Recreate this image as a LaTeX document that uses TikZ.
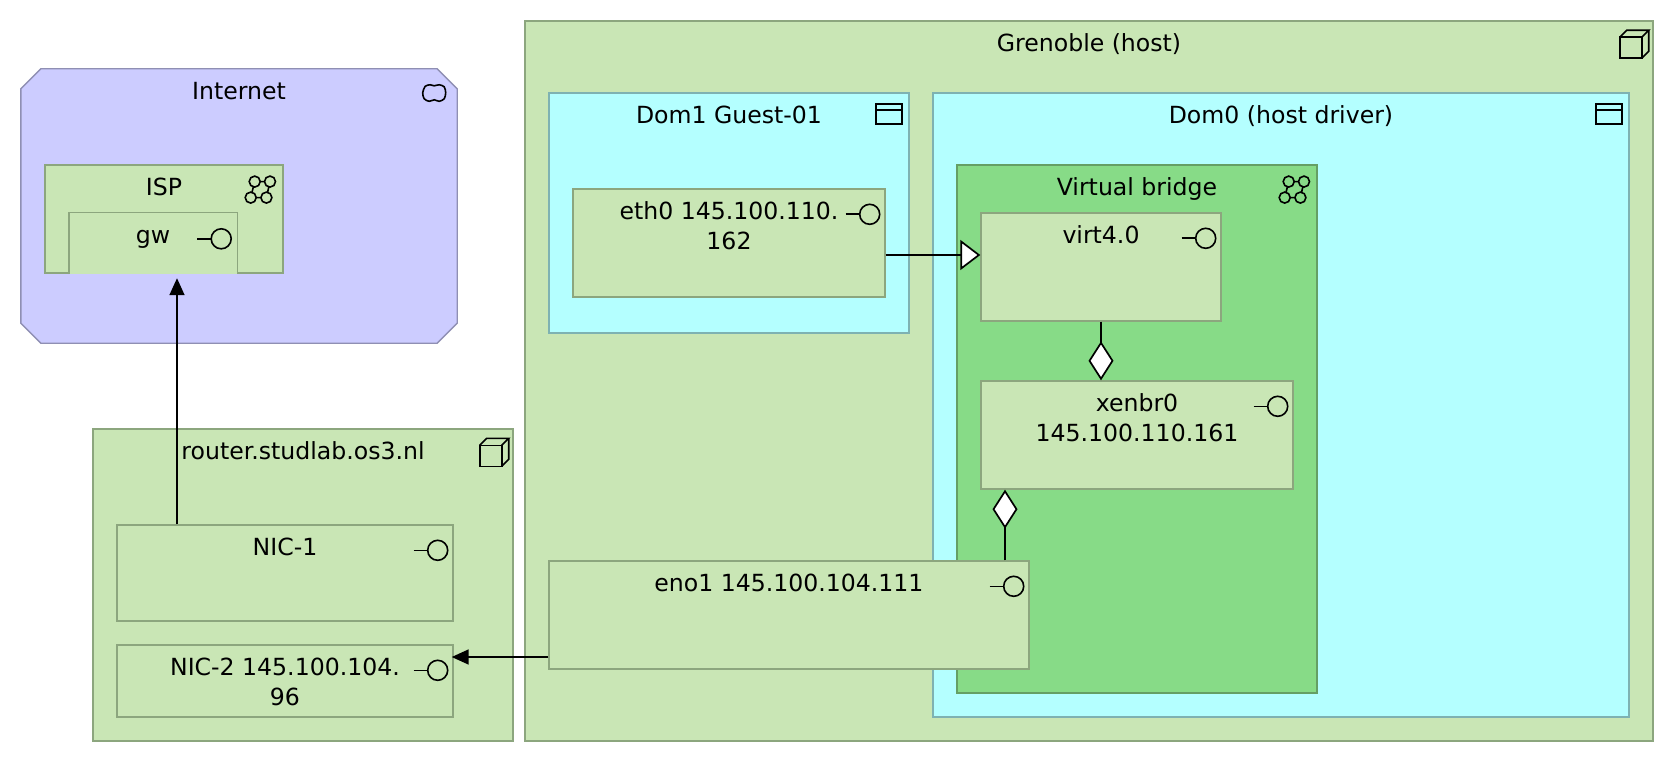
\documentclass[tikz,border=0pt]{standalone}
\usepackage{fontspec}
\setmainfont{DejaVu Sans}
\usetikzlibrary{arrows.meta}
\definecolor{nodegreen}{HTML}{C9E6B5}
\definecolor{nodeline}{HTML}{8CA67E}
\definecolor{bridgegreen}{HTML}{87DB87}
\definecolor{bridgeline}{HTML}{659F65}
\definecolor{domcyan}{HTML}{B4FFFF}
\definecolor{domline}{HTML}{7EB2B2}
\definecolor{netpurple}{HTML}{CCCCFF}
\definecolor{netline}{HTML}{8F8FB3}
\tikzset{
	techbox/.style 2 args={draw=nodeline, fill=nodegreen, line width=1.4pt, minimum width=#1pt, minimum height=#2pt, inner sep=0pt},
	dombox/.style 2 args={techbox={#1}{#2}, draw=domline, fill=domcyan},
	bridgebox/.style 2 args={techbox={#1}{#2}, draw=bridgeline, fill=bridgegreen},
	boxtitle/.style={anchor=base, align=center, inner sep=0pt, font=\fontsize{23.6}{30}\selectfont},
	iconline/.style={draw=black, line width=1.6pt},
	flow/.style={draw=black, line width=1.7pt, -{Triangle[length=17pt, width=15pt]}},
	realizes/.style={draw=black, line width=1.7pt, -{Triangle[fill=white, length=20pt, width=30pt]}},
	aggregates/.style={draw=black, line width=1.7pt, -{Diamond[fill=white, length=39pt, width=25pt]}},
	ifaceicon/.pic={
		\draw[iconline] (-40,26) -- (-26,26);
		\draw[iconline] (-16,26) circle (10pt);
	},
	cubeicon/.pic={
		\draw[iconline] (-34,17) rectangle (-12,38);
		\draw[iconline] (-34,17) -- (-27,10) -- (-5,10) -- (-12,17);
		\draw[iconline] (-5,10) -- (-5,31) -- (-12,38);
	},
	windowicon/.pic={
		\draw[iconline] (-34,12) rectangle (-8,32);
		\draw[iconline] (-34,18) -- (-8,18);
	},
	cloudicon/.pic={
		\draw[iconline] plot[smooth cycle] coordinates {(-34.5,24) (-32,17.5) (-27,16) (-23,17) (-18,16) (-13,18) (-11.5,24) (-13,30) (-18,32.5) (-23,31) (-28,32.5) (-33,30)};
	},
	neticon/.pic={
		\draw[iconline] (-29,17.3) -- (-13.7,17.3) -- (-17.3,33.3) -- (-33,33.3) -- cycle;
		\foreach \cx/\cy in {-29/17.3, -13.7/17.3, -17.3/33.3, -33/33.3}
			\draw[iconline, fill=#1] (\cx,\cy) circle (5.5pt);
	}
}
\begin{document}
\begin{tikzpicture}[x=1pt, y=-1pt]
\useasboundingbox (0,0) rectangle (1674,762);
\node[minimum width=436pt, minimum height=274pt, inner sep=0pt] (internet) at (239,206) {};
\draw[netline, fill=netpurple, line width=1.4pt] ([xshift=20pt]internet.north west) -- ([xshift=-20pt]internet.north east)
	-- ([yshift=-20pt]internet.north east) -- ([yshift=20pt]internet.south east)
	-- ([xshift=-20pt]internet.south east) -- ([xshift=20pt]internet.south west)
	-- ([yshift=20pt]internet.south west) -- ([yshift=-20pt]internet.north west) -- cycle;
\node[techbox={238}{108}] (isp) at (164,219) {};
\node[fill=nodegreen, minimum width=168pt, minimum height=61pt, inner sep=0pt] (gw) at (153,243.5) {};
\draw[nodeline, line width=1.4pt] (gw.south west) |- (gw.north east) -- (gw.south east);
\node[techbox={420}{312}] (router) at (303,585) {};
\node[techbox={336}{96}] (nicone) at (285,573) {};
\node[techbox={336}{72}] (nictwo) at (285,681) {};
\node[techbox={1128}{720}] (host) at (1089,381) {};
\node[dombox={360}{240}] (domone) at (729,213) {};
\node[techbox={312}{108}] (eth) at (729,243) {};
\node[dombox={696}{624}] (domzero) at (1281,405) {};
\node[bridgebox={360}{528}] (bridge) at (1137,429) {};
\node[techbox={240}{108}] (virt) at (1101,267) {};
\node[techbox={312}{108}] (xenbr) at (1137,435) {};
\node[techbox={480}{108}] (eno) at (789,615) {};
\node[boxtitle] (internettitle) at ([yshift=-31pt]internet.north) {Internet};
\node[boxtitle] (isptitle) at ([yshift=-31pt]isp.north) {ISP};
\node[boxtitle] (gwtitle) at ([yshift=-30.5pt]gw.north) {gw};
\node[boxtitle] (routertitle) at ([yshift=-31pt]router.north) {router.studlab.os3.nl};
\node[boxtitle] (niconetitle) at ([yshift=-31pt]nicone.north) {NIC-1};
\node[boxtitle] (nictwotitle) at ([yshift=-61pt]nictwo.north) {NIC-2 145.100.104.\\96};
\node[boxtitle] (hosttitle) at ([yshift=-31pt]host.north) {Grenoble (host)};
\node[boxtitle] (domonetitle) at ([yshift=-31pt]domone.north) {Dom1 Guest-01};
\node[boxtitle] (ethtitle) at ([yshift=-61pt]eth.north) {eth0 145.100.110.\\162};
\node[boxtitle] (domzerotitle) at ([yshift=-31pt]domzero.north) {Dom0 (host driver)};
\node[boxtitle] (bridgetitle) at ([yshift=-31pt]bridge.north) {Virtual bridge};
\node[boxtitle] (virttitle) at ([yshift=-31pt]virt.north) {virt4.0};
\node[boxtitle] (xenbrtitle) at ([yshift=-61pt]xenbr.north) {xenbr0\\145.100.110.161};
\node[boxtitle] (enotitle) at ([yshift=-31pt]eno.north) {eno1 145.100.104.111};
\pic at (internet.north east) {cloudicon};
\pic at (isp.north east) {neticon=nodegreen};
\pic at (bridge.north east) {neticon=bridgegreen};
\pic at (router.north east) {cubeicon};
\pic at (host.north east) {cubeicon};
\pic at (domone.north east) {windowicon};
\pic at (domzero.north east) {windowicon};
\pic at (gw.north east) {ifaceicon};
\pic at (nicone.north east) {ifaceicon};
\pic at (nictwo.north east) {ifaceicon};
\pic at (eth.north east) {ifaceicon};
\pic at (virt.north east) {ifaceicon};
\pic at (xenbr.north east) {ifaceicon};
\pic at (eno.north east) {ifaceicon};
\draw[flow] ([xshift=-108pt]nicone.north) -- ([xshift=24pt,yshift=-4pt]gw.south);
\draw[flow] ([yshift=-42pt]eno.west) -- ([xshift=-2pt,yshift=24pt]nictwo.east);
\draw[realizes] ([yshift=-12pt]eth.east) -- ([yshift=12pt]virt.west);
\draw[aggregates] (virt.south) -- ([xshift=-36pt]xenbr.north);
\draw[aggregates] ([xshift=216pt]eno.north) -- ([xshift=-132pt]xenbr.south);
\end{tikzpicture}
\end{document}
